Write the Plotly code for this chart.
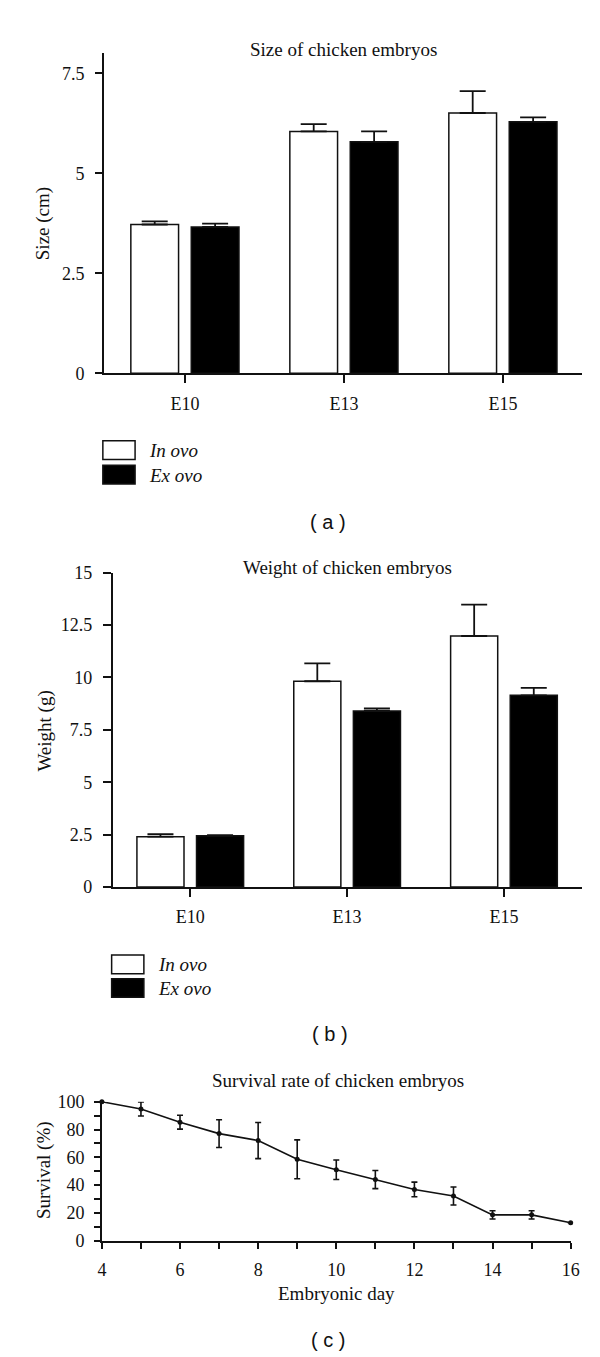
import plotly.graph_objects as go

# ---------------- data ----------------
categories = ["E10", "E13", "E15"]

size_in_ovo = [3.72, 6.05, 6.51]
size_in_ovo_err = [0.08, 0.18, 0.55]
size_ex_ovo = [3.66, 5.79, 6.29]
size_ex_ovo_err = [0.08, 0.26, 0.11]

weight_in_ovo = [2.40, 9.82, 11.98]
weight_in_ovo_err = [0.12, 0.85, 1.50]
weight_ex_ovo = [2.44, 8.40, 9.15]
weight_ex_ovo_err = [0.03, 0.12, 0.35]

days = [4, 5, 6, 7, 8, 9, 10, 11, 12, 13, 14, 15, 16]
survival = [100, 94.8, 85.3, 77.1, 72.1, 58.6, 51.1, 44.0, 36.9, 32.2, 18.6, 18.6, 12.9]
survival_err = [0, 5, 5, 10, 13, 14, 7, 6.5, 5.3, 6.5, 3, 3, 0]

series_names = ["In ovo", "Ex ovo"]

# ---------------- layout helpers ----------------
W, H = 600, 1357
SERIF = "Liberation Serif, Times New Roman, serif"
SANS = "Liberation Sans, Arial, sans-serif"
INK = "#111111"


def px(x):
    return x / W


def py(y):
    return 1 - y / H


fig = go.Figure()

err_style = dict(type="data", symmetric=False, color=INK, thickness=1.8, width=13)

# Panel a
fig.add_trace(go.Bar(x=categories, y=size_in_ovo, name=series_names[0],
                     marker=dict(color="white", line=dict(color=INK, width=1.5)),
                     error_y=dict(array=size_in_ovo_err, arrayminus=[0] * 3, **err_style),
                     xaxis="x", yaxis="y", showlegend=False))
fig.add_trace(go.Bar(x=categories, y=size_ex_ovo, name=series_names[1],
                     marker=dict(color="black", line=dict(color=INK, width=1.5)),
                     error_y=dict(array=size_ex_ovo_err, arrayminus=[0] * 3, **err_style),
                     xaxis="x", yaxis="y", showlegend=False))
# Panel b
fig.add_trace(go.Bar(x=categories, y=weight_in_ovo, name=series_names[0],
                     marker=dict(color="white", line=dict(color=INK, width=1.5)),
                     error_y=dict(array=weight_in_ovo_err, arrayminus=[0] * 3, **err_style),
                     xaxis="x2", yaxis="y2", showlegend=False))
fig.add_trace(go.Bar(x=categories, y=weight_ex_ovo, name=series_names[1],
                     marker=dict(color="black", line=dict(color=INK, width=1.5)),
                     error_y=dict(array=weight_ex_ovo_err, arrayminus=[0] * 3, **err_style),
                     xaxis="x2", yaxis="y2", showlegend=False))
# Panel c
fig.add_trace(go.Scatter(x=days, y=survival, mode="lines+markers",
                         line=dict(color=INK, width=1.6),
                         marker=dict(color=INK, size=5),
                         error_y=dict(type="data", array=survival_err, color=INK,
                                      thickness=1.6, width=3),
                         cliponaxis=False, xaxis="x3", yaxis="y3", showlegend=False))

tickfont = dict(family=SERIF, size=18, color=INK)
axis_common = dict(showline=True, linecolor=INK, linewidth=1.6, showgrid=False,
                   zeroline=False, ticks="outside", tickcolor=INK, tickwidth=1.6,
                   tickfont=tickfont)

fig.update_layout(
    width=W, height=H, margin=dict(l=0, r=0, t=0, b=0),
    paper_bgcolor="white", plot_bgcolor="white",
    barmode="group", bargap=0.24, bargroupgap=0.21,
    xaxis=dict(domain=[px(93), px(583)], range=[-0.51, 2.5], anchor="y",
               ticklen=8, ticklabelstandoff=5, **axis_common),
    yaxis=dict(domain=[py(360.5), py(36)], range=[0, 8.0], anchor="x",
               tickvals=[0, 2.5, 5, 7.5], ticktext=["0", "2.5", "5", "7.5"],
               ticklen=7, ticklabelstandoff=7, **axis_common),
    xaxis2=dict(domain=[px(102), px(583)], range=[-0.495, 2.5], anchor="y2",
                ticklen=8, ticklabelstandoff=5, **axis_common),
    yaxis2=dict(domain=[py(882), py(563)], range=[0, 15], anchor="x2",
                tickvals=[0, 2.5, 5, 7.5, 10, 12.5, 15],
                ticktext=["0", "2.5", "5", "7.5", "10", "12.5", "15"],
                ticklen=8, ticklabelstandoff=7, **axis_common),
    xaxis3=dict(domain=[px(91), px(571)], range=[4, 16], anchor="y3",
                tickvals=[4, 6, 8, 10, 12, 14, 16], ticklen=6, ticklabelstandoff=6,
                minor=dict(dtick=1, tick0=4, ticks="outside", ticklen=6,
                           tickcolor=INK, tickwidth=1.6),
                **axis_common),
    yaxis3=dict(domain=[py(1241), py(1100)], range=[0, 100], anchor="x3",
                tickvals=[0, 20, 40, 60, 80, 100], ticklen=6, ticklabelstandoff=6,
                minor=dict(dtick=10, tick0=0, ticks="outside", ticklen=6,
                           tickcolor=INK, tickwidth=1.6),
                **axis_common),
)

ann = []


def text(x, y, s, size=19, font=SERIF, angle=0, xanchor="center"):
    ann.append(dict(x=px(x), y=py(y), xref="paper", yref="paper", text=s,
                    showarrow=False, textangle=angle, xanchor=xanchor,
                    yanchor="middle", font=dict(family=font, size=size, color=INK)))


# titles
text(338, 32, "Size of chicken embryos")
text(342, 558, "Weight of chicken embryos")
text(333, 1078, "Survival rate of chicken embryos")
# axis titles
text(31, 209, "Size (cm)", angle=-90)
text(33, 724, "Weight (g)", angle=-90)
text(31, 1169, "Survival (%)", angle=-90)
text(331, 1295, "Embryonic day")
# panel labels
text(323, 512, "( a )", size=20, font=SANS)
text(325, 1031, "( b )", size=20, font=SANS)
text(323, 1342, "( c )", size=20, font=SANS)

shapes = []


def legend(x0, y0, gap):
    shapes.append(dict(type="rect", xref="paper", yref="paper",
                       x0=px(x0), x1=px(x0 + 33), y0=py(y0 + 19), y1=py(y0),
                       line=dict(color=INK, width=1.5), fillcolor="white"))
    shapes.append(dict(type="rect", xref="paper", yref="paper",
                       x0=px(x0), x1=px(x0 + 33), y0=py(y0 + gap + 19), y1=py(y0 + gap),
                       line=dict(color=INK, width=1.5), fillcolor="black"))
    text(x0 + 45, y0 + 10, "<i>" + series_names[0] + "</i>", xanchor="left")
    text(x0 + 45, y0 + gap + 10, "<i>" + series_names[1] + "</i>", xanchor="left")


legend(92, 429, 25)
legend(101, 951, 24)

fig.update_layout(annotations=ann, shapes=shapes)

fig.write_html("out.html")
